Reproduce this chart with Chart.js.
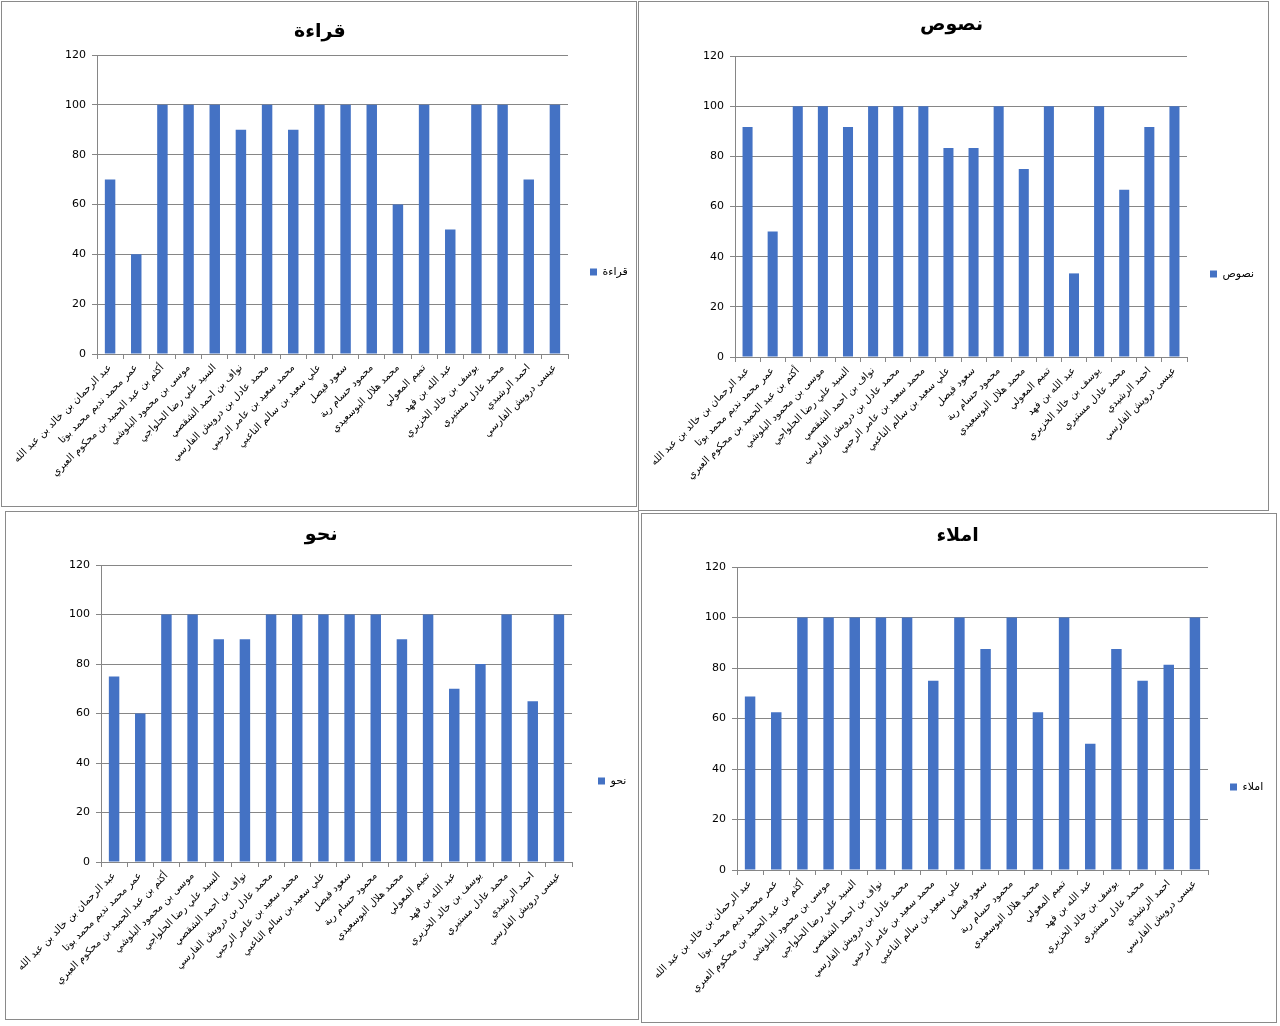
<!DOCTYPE html>
<html>
<head>
<meta charset="utf-8">
<script src="https://cdn.jsdelivr.net/npm/chart.js@4.4.1/dist/chart.umd.min.js"></script>
<style>
  body { margin: 0; background: #fff; width: 1280px; height: 1026px; overflow: hidden; }
  .panel { position: absolute; box-sizing: border-box; border: 1px solid #8a8a8a; background: #fff; }
  .panel canvas { position: absolute; left: 0; top: 0; }
</style>
</head>
<body>
<div class="panel" style="left:1px;top:1px;width:636px;height:506px"><canvas id="c1" width="634" height="504"></canvas></div>
<div class="panel" style="left:638px;top:1px;width:631px;height:510px"><canvas id="c2" width="629" height="508"></canvas></div>
<div class="panel" style="left:5px;top:511px;width:634px;height:509px"><canvas id="c3" width="632" height="507"></canvas></div>
<div class="panel" style="left:641px;top:513px;width:636px;height:510px"><canvas id="c4" width="634" height="508"></canvas></div>
<script>
// student names (x categories)
const students = [
  'عبد الرحمان بن خالد بن عبد الله',
  'عمر محمد نديم محمد بوتا',
  'أكثم بن عبد الحميد بن محكوم العبري',
  'موسى بن محمود البلوشي',
  'السيد علي رضا الحلواجي',
  'نواف بن احمد الشقصي',
  'محمد عادل بن درويش الفارسي',
  'محمد سعيد بن عامر الرحبي',
  'علي سعيد بن سالم الناعبي',
  'سعود فيصل',
  'محمود حسام ربة',
  'محمد هلال البوسعيدي',
  'تميم المعولي',
  'عبد الله بن فهد',
  'يوسف بن خالد الخزيري',
  'محمد عادل مستيري',
  'احمد الرشيدي',
  'عيسى درويش الفارسي'
];

// scores per subject
const reading   = [70, 40, 100, 100, 100, 90, 100, 90, 100, 100, 100, 60, 100, 50, 100, 100, 70, 100];
const texts     = [91.67, 50, 100, 100, 91.67, 100, 100, 100, 83.33, 83.33, 100, 75, 100, 33.33, 100, 66.67, 91.67, 100];
const grammar   = [75, 60, 100, 100, 90, 90, 100, 100, 100, 100, 100, 90, 100, 70, 80, 100, 65, 100];
const dictation = [68.75, 62.5, 100, 100, 100, 100, 100, 75, 100, 87.5, 100, 62.5, 100, 50, 87.5, 75, 81.25, 100];

const yTicks = [0, 20, 40, 60, 80, 100, 120];

const BAR = '#4472C4';
const GRID = '#868686';
const FONT = "'DejaVu Sans', sans-serif";

function makeChart(p) {
  const canvas = document.getElementById(p.id);
  const W = canvas.width, H = canvas.height;
  const ctx = canvas.getContext('2d');
  ctx.font = '11px ' + FONT;
  const legTextW = ctx.measureText(p.title).width;

  const titleSize = 19, titleLH = titleSize * 1.2;
  const tTop = p.titleCy - p.oy - titleLH / 2;
  const tBottom = p.T - p.oy - tTop - titleLH;
  const legTitleH = 2 * (p.legCy - p.oy) - H;
  const boxW = 7;
  const padRight = (p.ox + W) - p.sqX - boxW - 5.5 - legTextW - 10;

  new Chart(canvas, {
    type: 'bar',
    data: {
      labels: students,
      datasets: [{
        label: p.title,
        data: p.values,
        backgroundColor: BAR,
        barPercentage: 0.4,
        categoryPercentage: 1
      }]
    },
    options: {
      responsive: false,
      animation: false,
      layout: { padding: { left: 0, top: 0, bottom: 0, right: padRight } },
      plugins: {
        title: {
          display: true,
          text: p.title,
          color: '#000',
          font: { family: FONT, size: titleSize, weight: 'bold' },
          padding: { top: tTop, bottom: tBottom }
        },
        legend: {
          position: 'right',
          title: { display: true, text: '', padding: { top: Math.max(legTitleH - 14.4, 0), bottom: 0 } },
          labels: {
            boxWidth: boxW,
            boxHeight: boxW,
            padding: p.sqX - p.R,
            color: '#000',
            font: { family: FONT, size: 11 }
          }
        },
        tooltip: { enabled: false }
      },
      scales: {
        x: {
          grid: { display: true, drawOnChartArea: false, drawTicks: true, tickLength: 5, color: GRID },
          border: { color: GRID },
          ticks: {
            autoSkip: false,
            maxRotation: 45,
            minRotation: 45,
            padding: 3,
            color: '#000',
            font: { family: FONT, size: 10 }
          },
          afterFit: s => { s.height = (p.oy + H) - p.B; }
        },
        y: {
          min: 0,
          max: 120,
          afterBuildTicks: s => { s.ticks = yTicks.map(v => ({ value: v })); },
          grid: { color: GRID, tickLength: 5 },
          border: { color: GRID },
          ticks: {
            padding: 6,
            color: '#000',
            font: { family: FONT, size: 11 }
          },
          afterFit: s => { s.width = p.L - p.ox; }
        }
      }
    }
  });
}

makeChart({ id: 'c1', title: 'قراءة', values: reading,   ox: 2,   oy: 2,   L: 97,  T: 55,  R: 568,  B: 354, titleCy: 32,  sqX: 590,  legCy: 272 });
makeChart({ id: 'c2', title: 'نصوص',  values: texts,     ox: 639, oy: 2,   L: 735, T: 56,  R: 1187, B: 357, titleCy: 25,  sqX: 1210, legCy: 274 });
makeChart({ id: 'c3', title: 'نحو',   values: grammar,   ox: 6,   oy: 512, L: 101, T: 565, R: 572,  B: 862, titleCy: 535, sqX: 598,  legCy: 781 });
makeChart({ id: 'c4', title: 'املاء', values: dictation, ox: 642, oy: 514, L: 737, T: 567, R: 1208, B: 870, titleCy: 536, sqX: 1230, legCy: 787 });
</script>
</body>
</html>
